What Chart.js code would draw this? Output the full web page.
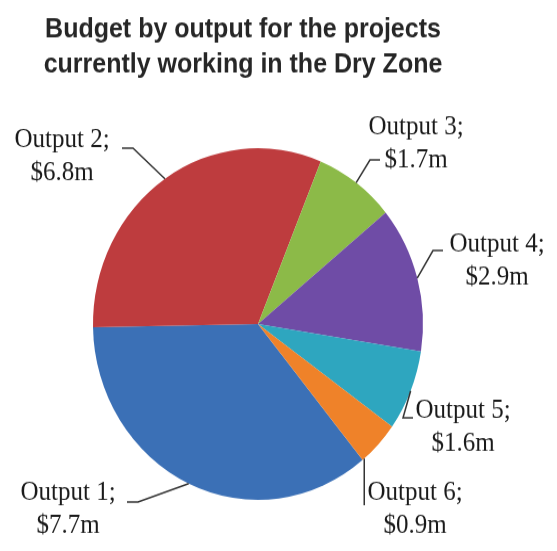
<!DOCTYPE html>
<html>
<head>
<meta charset="utf-8">
<script src="https://cdn.jsdelivr.net/npm/chart.js@4/dist/chart.umd.min.js"></script>
<style>
  html, body { margin: 0; padding: 0; background: #fff; overflow: hidden; }
  /* the source picture is stretched a little vertically, so the canvas is too */
  #chart { display: block; width: 557px !important; height: 551px !important; }
</style>
</head>
<body>
<canvas id="chart" width="557" height="517" style="width:557px;height:551px"></canvas>
<script>
const titleLines = ['Budget by output for the projects', 'currently working in the Dry Zone'];
const categories = ['Output 1', 'Output 2', 'Output 3', 'Output 4', 'Output 5', 'Output 6'];
const budgets = [7.7, 6.8, 1.7, 2.9, 1.6, 0.9];
const sliceColors = ['#3b70b6', '#be3c3e', '#8cba48', '#6f4ca6', '#2ea6bf', '#ef8229'];

// where each label sits and how its leader bends (canvas px, before the vertical stretch)
// "at" = where along the slice's arc the leader starts (0..1)
const labelLayout = [
    { at: 0.5,  cx: 68,  y: 469, elbow: [138, 471], end: [127, 471] },
    { at: 0.5,  cx: 62,  y: 138, elbow: [133, 139], end: [122, 139] },
    { at: 0.5,  cx: 416, y: 126, elbow: [370, 150], end: [380, 150] },
    { at: 0.5,  cx: 497, y: 236, elbow: [433, 235], end: [443, 235] },
    { at: 0.5,  cx: 463, y: 392, elbow: [403, 392], end: [413, 392] },
    { at: 0.95, cx: 415, y: 469, drop: 474 }
];

const total = budgets.reduce((a, b) => a + b, 0);
// Output 2 begins roughly at 9 o'clock
const rotation = 269 - budgets[0] / total * 360;

const labelPlugin = {
    id: 'labels',
    afterDraw(chart) {
        const ctx = chart.ctx;
        ctx.save();

        ctx.fillStyle = '#262626';
        ctx.font = 'bold 25px "Liberation Sans", Arial, sans-serif';
        ctx.textAlign = 'center';
        ctx.textBaseline = 'alphabetic';
        ctx.fillText(titleLines[0], 243, 35);
        ctx.fillText(titleLines[1], 243, 68);

        const meta = chart.getDatasetMeta(0);
        ctx.strokeStyle = '#333';
        ctx.lineWidth = 1.5;
        ctx.font = '25px "Liberation Serif", "Times New Roman", serif';
        ctx.fillStyle = '#1a1a1a';

        meta.data.forEach((arc, i) => {
            const lay = labelLayout[i];
            const p = arc.getProps(['x', 'y', 'startAngle', 'endAngle', 'outerRadius'], true);
            const a = p.startAngle + (p.endAngle - p.startAngle) * lay.at;
            const ax = p.x + Math.cos(a) * p.outerRadius;
            const ay = p.y + Math.sin(a) * p.outerRadius;

            ctx.beginPath();
            ctx.moveTo(ax, ay);
            if (lay.drop) {
                ctx.lineTo(ax, lay.drop);
            } else {
                ctx.lineTo(lay.elbow[0], lay.elbow[1]);
                ctx.lineTo(lay.end[0], lay.end[1]);
            }
            ctx.stroke();

            ctx.textAlign = 'center';
            ctx.fillText(categories[i] + ';', lay.cx, lay.y);
            ctx.fillText('$' + budgets[i].toFixed(1) + 'm', lay.cx, lay.y + 31);
        });

        ctx.restore();
    }
};

new Chart(document.getElementById('chart'), {
    type: 'pie',
    data: {
        labels: categories,
        datasets: [{
            data: budgets,
            backgroundColor: sliceColors,
            borderWidth: 0
        }]
    },
    options: {
        responsive: false,
        animation: false,
        rotation: rotation,
        layout: { padding: { left: 93, right: 134, top: 139, bottom: 48 } },
        plugins: {
            legend: { display: false },
            tooltip: { enabled: false },
            title: { display: false }
        }
    },
    plugins: [labelPlugin]
});
</script>
</body>
</html>
